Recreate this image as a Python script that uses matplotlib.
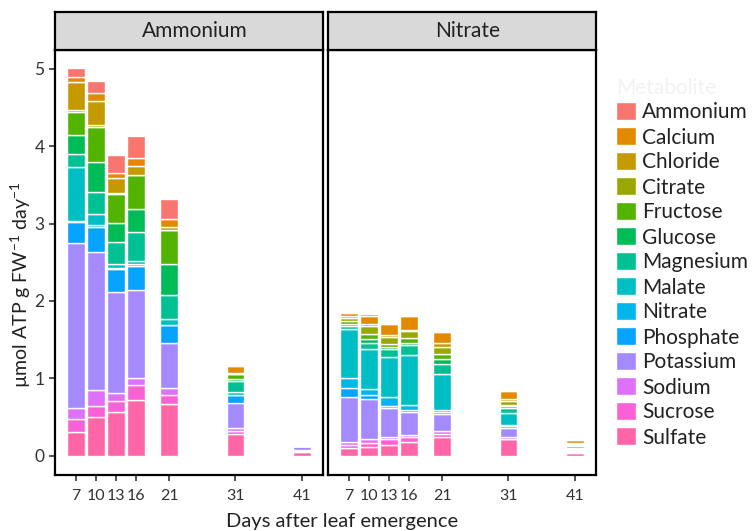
import matplotlib.pyplot as plt
from matplotlib.patches import Patch

plt.rcParams['font.family'] = ['Lato', 'DejaVu Sans']
plt.rcParams['mathtext.fontset'] = 'custom'
plt.rcParams['mathtext.rm'] = 'Lato'

W, H = 753, 531

days = [7, 10, 13, 16, 21, 31, 41]
panels = ['Ammonium', 'Nitrate']

# legend order (top to bottom); stacking goes the other way
metabolites = ['Ammonium', 'Calcium', 'Chloride', 'Citrate', 'Fructose', 'Glucose',
               'Magnesium', 'Malate', 'Nitrate', 'Phosphate', 'Potassium', 'Sodium',
               'Sucrose', 'Sulfate']
colors = ['#F8766D', '#E38900', '#C49A00', '#99A800', '#53B400', '#00BC56', '#00C094',
          '#00BFC4', '#00B6EB', '#06A4FF', '#A58AFF', '#DF70F8', '#FB61D7', '#FF66A8']

# values per day (7, 10, 13, 16, 21, 31, 41), umol ATP g FW-1 day-1
amm_sulfate   = [0.31, 0.50, 0.57, 0.72, 0.67, 0.28, 0.045]
amm_sucrose   = [0.16, 0.14, 0.14, 0.19, 0.11, 0.04, 0.015]
amm_sodium    = [0.14, 0.21, 0.10, 0.09, 0.10, 0.04, 0.015]
amm_potassium = [2.14, 1.78, 1.30, 1.14, 0.58, 0.32, 0.05]
amm_phosphate = [0.27, 0.33, 0.30, 0.31, 0.23, 0.10, 0.005]
amm_nitrate   = [0.01, 0.02, 0.02, 0.03, 0.00, 0.01, 0.0]
amm_malate    = [0.70, 0.15, 0.05, 0.03, 0.07, 0.03, 0.0]
amm_magnesium = [0.17, 0.28, 0.28, 0.38, 0.32, 0.14, 0.0]
amm_glucose   = [0.24, 0.38, 0.25, 0.30, 0.40, 0.03, 0.0]
amm_fructose  = [0.30, 0.46, 0.37, 0.44, 0.44, 0.06, 0.0]
amm_citrate   = [0.03, 0.02, 0.02, 0.00, 0.00, 0.01, 0.0]
amm_chloride  = [0.36, 0.31, 0.19, 0.11, 0.03, 0.01, 0.0]
amm_calcium   = [0.07, 0.11, 0.06, 0.11, 0.11, 0.09, 0.0]
amm_ammonium  = [0.11, 0.15, 0.24, 0.28, 0.26, 0.01, 0.0]

nit_sulfate   = [0.10, 0.11, 0.14, 0.18, 0.24, 0.21, 0.035]
nit_sucrose   = [0.04, 0.05, 0.07, 0.06, 0.04, 0.01, 0.01]
nit_sodium    = [0.04, 0.05, 0.03, 0.03, 0.04, 0.02, 0.01]
nit_potassium = [0.58, 0.52, 0.37, 0.30, 0.22, 0.12, 0.015]
nit_phosphate = [0.11, 0.06, 0.03, 0.02, 0.02, 0.02, 0.01]
nit_nitrate   = [0.13, 0.07, 0.12, 0.06, 0.03, 0.02, 0.01]
nit_malate    = [0.64, 0.52, 0.51, 0.65, 0.47, 0.15, 0.015]
nit_magnesium = [0.03, 0.08, 0.11, 0.13, 0.13, 0.07, 0.025]
nit_glucose   = [0.03, 0.05, 0.02, 0.03, 0.06, 0.02, 0.005]
nit_fructose  = [0.04, 0.06, 0.04, 0.06, 0.07, 0.01, 0.005]
nit_citrate   = [0.04, 0.11, 0.09, 0.09, 0.09, 0.06, 0.01]
nit_chloride  = [0.03, 0.02, 0.03, 0.02, 0.04, 0.02, 0.01]
nit_calcium   = [0.03, 0.11, 0.14, 0.17, 0.15, 0.11, 0.045]
nit_ammonium  = [0.01, 0.02, 0.00, 0.00, 0.00, 0.00, 0.0]

amm_data = [amm_ammonium, amm_calcium, amm_chloride, amm_citrate, amm_fructose,
            amm_glucose, amm_magnesium, amm_malate, amm_nitrate, amm_phosphate,
            amm_potassium, amm_sodium, amm_sucrose, amm_sulfate]
nit_data = [nit_ammonium, nit_calcium, nit_chloride, nit_citrate, nit_fructose,
            nit_glucose, nit_magnesium, nit_malate, nit_nitrate, nit_phosphate,
            nit_potassium, nit_sodium, nit_sucrose, nit_sulfate]


def px_axes(fig, x0, x1, y0, y1):
    return fig.add_axes([x0 / W, 1 - y1 / H, (x1 - x0) / W, (y1 - y0) / H])


fig = plt.figure(figsize=(W / 100, H / 100), dpi=100)

panel_x = [(55, 323), (328, 596)]
for i, (name, data) in enumerate(zip(panels, [amm_data, nit_data])):
    x0, x1 = panel_x[i]
    ax = px_axes(fig, x0, x1, 49.5, 475)
    bottom = [0.0] * len(days)
    for vals, c in zip(data[::-1], colors[::-1]):
        ax.bar(days, vals, width=2.7, bottom=bottom, color=c,
               edgecolor='white', linewidth=1.0)
        bottom = [b + v for b, v in zip(bottom, vals)]
    ax.set_xlim(3.815, 44.185)
    ax.set_ylim(-0.25, 5.25)
    ax.set_xticks(days)
    ax.set_yticks(range(6))
    ax.tick_params(colors='#222222', labelcolor='#333333', length=4, width=1.1)
    ax.tick_params(axis='x', labelsize=11.5, pad=6)
    ax.tick_params(axis='y', labelsize=12.5)
    if i > 0:
        ax.tick_params(left=False, labelleft=False)
    for s in ax.spines.values():
        s.set_linewidth(1.6)
        s.set_color('black')

    strip = px_axes(fig, x0, x1, 12, 49.5)
    strip.set_facecolor('#D9D9D9')
    strip.set_xticks([])
    strip.set_yticks([])
    for s in strip.spines.values():
        s.set_linewidth(1.6)
        s.set_color('black')
    strip.text(0.52, 0.5, name, ha='center', va='center', fontsize=15,
               color='#222222', transform=strip.transAxes)

fig.text(21 / W, 1 - 285 / H,
         r'µmol ATP g FW$^{\mathregular{-1}}$ day$^{\mathregular{-1}}$',
         rotation=90, ha='center', va='center', fontsize=14, color='#222222')
fig.text(342 / W, 1 - 521 / H, 'Days after leaf emergence', ha='center',
         va='center', fontsize=14.5, color='#222222')

handles = [Patch(facecolor=c, edgecolor='white', linewidth=1.0) for c in colors]
leg = fig.legend(handles, metabolites, loc='upper left',
                 bbox_to_anchor=(616 / W, 1 - 77.5 / H), frameon=False,
                 fontsize=15, title='Metabolite', title_fontsize=15,
                 handlelength=0.96, handleheight=0.96, handletextpad=0.3,
                 labelspacing=0.23, borderpad=0, borderaxespad=0)
leg.get_title().set_color('#F2F2F2')
leg._legend_box.align = 'left'
for t in leg.get_texts():
    t.set_color('#222222')

fig.savefig('out.png', dpi=100)
